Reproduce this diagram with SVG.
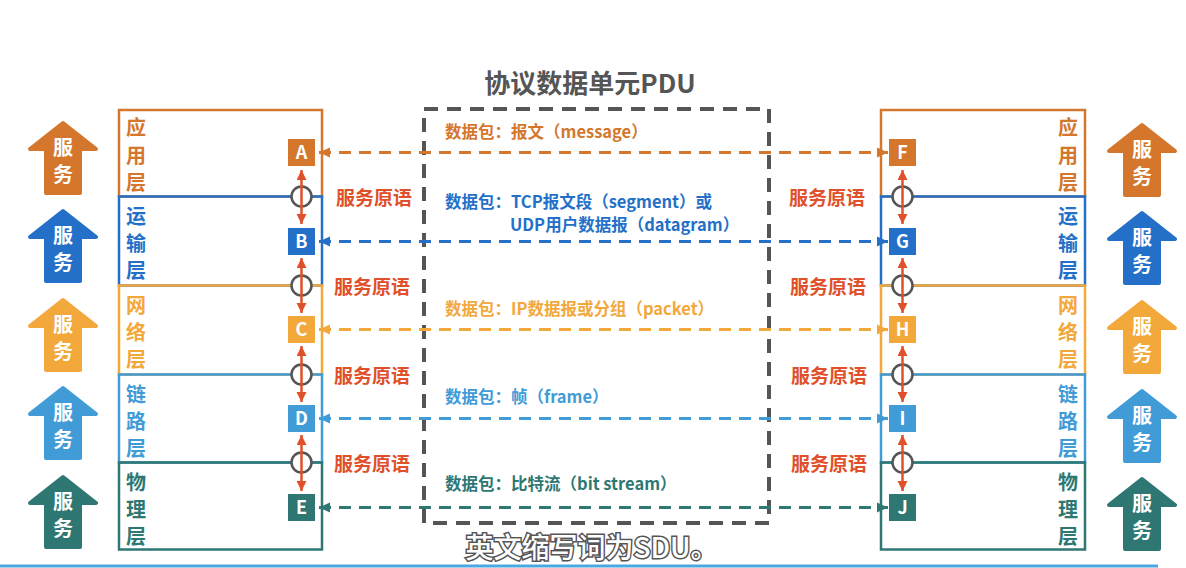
<svg xmlns="http://www.w3.org/2000/svg" width="1186" height="568" viewBox="0 0 1186 568">
<style>
text{font-family:"Noto Sans CJK SC","Noto Sans",sans-serif;font-weight:bold}
.lay{font-size:20px}
.svc{font-size:20px;fill:#fff}
.sq{font-size:18px;fill:#fff;text-anchor:middle}
.pdu{font-size:16.5px}
.prim{font-size:19px;fill:#E0502A;text-anchor:middle}
.box{fill:none;stroke-width:2.5}
.con{fill:none;stroke-width:3;stroke-dasharray:12 8}
.ring{fill:#fff;stroke:#555;stroke-width:2.5}
.red{stroke:#E0502A;stroke-width:2.5;fill:none;marker-start:url(#mR);marker-end:url(#mR)}
</style>
<defs>
<path id="up" d="M0,2 L33,28 L17,28 L17,72 L-17,72 L-17,28 L-33,28 Z" stroke-width="4" stroke-linejoin="round"/>
<marker id="mO" markerUnits="userSpaceOnUse" markerWidth="12" markerHeight="12" refX="11" refY="6" orient="auto-start-reverse"><path d="M0,1 L11,6 L0,11 Z" fill="#D4772C"/></marker>
<marker id="mB" markerUnits="userSpaceOnUse" markerWidth="12" markerHeight="12" refX="11" refY="6" orient="auto-start-reverse"><path d="M0,1 L11,6 L0,11 Z" fill="#2470C8"/></marker>
<marker id="mY" markerUnits="userSpaceOnUse" markerWidth="12" markerHeight="12" refX="11" refY="6" orient="auto-start-reverse"><path d="M0,1 L11,6 L0,11 Z" fill="#F3A83B"/></marker>
<marker id="mL" markerUnits="userSpaceOnUse" markerWidth="12" markerHeight="12" refX="11" refY="6" orient="auto-start-reverse"><path d="M0,1 L11,6 L0,11 Z" fill="#419BD7"/></marker>
<marker id="mT" markerUnits="userSpaceOnUse" markerWidth="12" markerHeight="12" refX="11" refY="6" orient="auto-start-reverse"><path d="M0,1 L11,6 L0,11 Z" fill="#2E7773"/></marker>
<marker id="mR" markerUnits="userSpaceOnUse" markerWidth="12" markerHeight="12" refX="10" refY="5" orient="auto-start-reverse"><path d="M0,0 L10,5 L0,10 Z" fill="#E0502A"/></marker>
</defs>
<rect width="1186" height="568" fill="#fff"/>

<g id="title"><text x="590" y="93" font-size="26" fill="#555" text-anchor="middle">协议数据单元PDU</text></g>

<g id="pdu-box"><rect x="424" y="109" width="345" height="414" fill="none" stroke="#555" stroke-width="4" stroke-dasharray="14 9"/></g>

<g id="service-arrows-left">
<use href="#up" x="63" y="121" fill="#D4772C" stroke="#D4772C"/>
<text class="svc" x="63" y="155" text-anchor="middle">服</text><text class="svc" x="63" y="182" text-anchor="middle">务</text>
<use href="#up" x="63" y="209" fill="#2470C8" stroke="#2470C8"/>
<text class="svc" x="63" y="243" text-anchor="middle">服</text><text class="svc" x="63" y="270" text-anchor="middle">务</text>
<use href="#up" x="63" y="298" fill="#F3A83B" stroke="#F3A83B"/>
<text class="svc" x="63" y="332" text-anchor="middle">服</text><text class="svc" x="63" y="359" text-anchor="middle">务</text>
<use href="#up" x="63" y="386" fill="#419BD7" stroke="#419BD7"/>
<text class="svc" x="63" y="420" text-anchor="middle">服</text><text class="svc" x="63" y="447" text-anchor="middle">务</text>
<use href="#up" x="63" y="475" fill="#2E7773" stroke="#2E7773"/>
<text class="svc" x="63" y="509" text-anchor="middle">服</text><text class="svc" x="63" y="536" text-anchor="middle">务</text>
</g>
<g id="service-arrows-right">
<use href="#up" x="1142" y="123" fill="#D4772C" stroke="#D4772C"/>
<text class="svc" x="1142" y="157" text-anchor="middle">服</text><text class="svc" x="1142" y="184" text-anchor="middle">务</text>
<use href="#up" x="1142" y="211" fill="#2470C8" stroke="#2470C8"/>
<text class="svc" x="1142" y="245" text-anchor="middle">服</text><text class="svc" x="1142" y="272" text-anchor="middle">务</text>
<use href="#up" x="1142" y="300" fill="#F3A83B" stroke="#F3A83B"/>
<text class="svc" x="1142" y="334" text-anchor="middle">服</text><text class="svc" x="1142" y="361" text-anchor="middle">务</text>
<use href="#up" x="1142" y="389" fill="#419BD7" stroke="#419BD7"/>
<text class="svc" x="1142" y="423" text-anchor="middle">服</text><text class="svc" x="1142" y="450" text-anchor="middle">务</text>
<use href="#up" x="1142" y="477" fill="#2E7773" stroke="#2E7773"/>
<text class="svc" x="1142" y="511" text-anchor="middle">服</text><text class="svc" x="1142" y="538" text-anchor="middle">务</text>
</g>

<g id="left-application"><rect class="box" x="119" y="110" width="203" height="86.5" stroke="#D4772C"/>
<text class="lay" fill="#D4772C" x="126" y="135">应</text><text class="lay" fill="#D4772C" x="126" y="163">用</text><text class="lay" fill="#D4772C" x="126" y="190">层</text>
<rect x="288" y="139" width="27" height="27" fill="#D4772C"/><text class="sq" x="301.5" y="159">A</text></g>
<g id="left-transport"><rect class="box" x="119" y="196.5" width="203" height="89" stroke="#2470C8"/>
<text class="lay" fill="#2470C8" x="126" y="224">运</text><text class="lay" fill="#2470C8" x="126" y="251">输</text><text class="lay" fill="#2470C8" x="126" y="278">层</text>
<rect x="288" y="228" width="27" height="27" fill="#2470C8"/><text class="sq" x="301.5" y="248">B</text></g>
<g id="left-network"><rect class="box" x="119" y="285.5" width="203" height="89" stroke="#F3A83B"/>
<text class="lay" fill="#F3A83B" x="126" y="313">网</text><text class="lay" fill="#F3A83B" x="126" y="340">络</text><text class="lay" fill="#F3A83B" x="126" y="367">层</text>
<rect x="288" y="316" width="27" height="27" fill="#F3A83B"/><text class="sq" x="301.5" y="336">C</text></g>
<g id="left-link"><rect class="box" x="119" y="374.5" width="203" height="88" stroke="#419BD7"/>
<text class="lay" fill="#419BD7" x="126" y="402">链</text><text class="lay" fill="#419BD7" x="126" y="429">路</text><text class="lay" fill="#419BD7" x="126" y="456">层</text>
<rect x="288" y="405" width="27" height="27" fill="#419BD7"/><text class="sq" x="301.5" y="425">D</text></g>
<g id="left-physical"><rect class="box" x="119" y="462.5" width="203" height="87" stroke="#2E7773"/>
<text class="lay" fill="#2E7773" x="126" y="490">物</text><text class="lay" fill="#2E7773" x="126" y="517">理</text><text class="lay" fill="#2E7773" x="126" y="544">层</text>
<rect x="288" y="494" width="27" height="27" fill="#2E7773"/><text class="sq" x="301.5" y="514">E</text></g>

<g id="right-application"><rect class="box" x="881" y="110" width="204" height="86.5" stroke="#D4772C"/>
<text class="lay" fill="#D4772C" x="1078" y="135" text-anchor="end">应</text><text class="lay" fill="#D4772C" x="1078" y="163" text-anchor="end">用</text><text class="lay" fill="#D4772C" x="1078" y="190" text-anchor="end">层</text>
<rect x="889" y="139" width="27" height="27" fill="#D4772C"/><text class="sq" x="902.5" y="159">F</text></g>
<g id="right-transport"><rect class="box" x="881" y="196.5" width="204" height="89" stroke="#2470C8"/>
<text class="lay" fill="#2470C8" x="1078" y="224" text-anchor="end">运</text><text class="lay" fill="#2470C8" x="1078" y="251" text-anchor="end">输</text><text class="lay" fill="#2470C8" x="1078" y="278" text-anchor="end">层</text>
<rect x="889" y="228" width="27" height="27" fill="#2470C8"/><text class="sq" x="902.5" y="248">G</text></g>
<g id="right-network"><rect class="box" x="881" y="285.5" width="204" height="89" stroke="#F3A83B"/>
<text class="lay" fill="#F3A83B" x="1078" y="313" text-anchor="end">网</text><text class="lay" fill="#F3A83B" x="1078" y="340" text-anchor="end">络</text><text class="lay" fill="#F3A83B" x="1078" y="367" text-anchor="end">层</text>
<rect x="889" y="316" width="27" height="27" fill="#F3A83B"/><text class="sq" x="902.5" y="336">H</text></g>
<g id="right-link"><rect class="box" x="881" y="374.5" width="204" height="88" stroke="#419BD7"/>
<text class="lay" fill="#419BD7" x="1078" y="402" text-anchor="end">链</text><text class="lay" fill="#419BD7" x="1078" y="429" text-anchor="end">路</text><text class="lay" fill="#419BD7" x="1078" y="456" text-anchor="end">层</text>
<rect x="889" y="405" width="27" height="27" fill="#419BD7"/><text class="sq" x="902.5" y="425">I</text></g>
<g id="right-physical"><rect class="box" x="881" y="462.5" width="204" height="87" stroke="#2E7773"/>
<text class="lay" fill="#2E7773" x="1078" y="490" text-anchor="end">物</text><text class="lay" fill="#2E7773" x="1078" y="517" text-anchor="end">理</text><text class="lay" fill="#2E7773" x="1078" y="544" text-anchor="end">层</text>
<rect x="889" y="494" width="27" height="27" fill="#2E7773"/><text class="sq" x="902.5" y="514">J</text></g>

<g id="service-primitives">
<circle class="ring" cx="301.5" cy="196.5" r="10"/><circle class="ring" cx="301.5" cy="285.5" r="10"/><circle class="ring" cx="301.5" cy="374.5" r="10"/><circle class="ring" cx="301.5" cy="462.5" r="10"/>
<circle class="ring" cx="902.5" cy="196.5" r="10"/><circle class="ring" cx="902.5" cy="285.5" r="10"/><circle class="ring" cx="902.5" cy="374.5" r="10"/><circle class="ring" cx="902.5" cy="462.5" r="10"/>
<line class="red" x1="301.5" y1="170" x2="301.5" y2="224"/><line class="red" x1="301.5" y1="258" x2="301.5" y2="313"/><line class="red" x1="301.5" y1="346" x2="301.5" y2="402"/><line class="red" x1="301.5" y1="435" x2="301.5" y2="491"/>
<line class="red" x1="902.5" y1="170" x2="902.5" y2="224"/><line class="red" x1="902.5" y1="258" x2="902.5" y2="313"/><line class="red" x1="902.5" y1="346" x2="902.5" y2="402"/><line class="red" x1="902.5" y1="435" x2="902.5" y2="491"/>
<text class="prim" x="374" y="205">服务原语</text><text class="prim" x="372" y="294">服务原语</text><text class="prim" x="372" y="383">服务原语</text><text class="prim" x="372" y="471">服务原语</text>
<text class="prim" x="827" y="205">服务原语</text><text class="prim" x="828" y="294">服务原语</text><text class="prim" x="829" y="383">服务原语</text><text class="prim" x="829" y="471">服务原语</text>
</g>

<g id="connectors">
<line class="con" x1="319" y1="152.5" x2="888" y2="152.5" stroke="#D4772C" marker-start="url(#mO)" marker-end="url(#mO)"/>
<line class="con" x1="319" y1="241.5" x2="888" y2="241.5" stroke="#2470C8" marker-start="url(#mB)" marker-end="url(#mB)"/>
<line class="con" x1="319" y1="329.5" x2="888" y2="329.5" stroke="#F3A83B" marker-start="url(#mY)" marker-end="url(#mY)"/>
<line class="con" x1="319" y1="418.5" x2="888" y2="418.5" stroke="#419BD7" marker-start="url(#mL)" marker-end="url(#mL)"/>
<line class="con" x1="319" y1="507.5" x2="888" y2="507.5" stroke="#2E7773" marker-start="url(#mT)" marker-end="url(#mT)"/>
</g>

<g id="pdu-labels">
<text class="pdu" x="445" y="138" fill="#D4772C">数据包：报文（message）</text>
<text class="pdu" x="445" y="208" fill="#2470C8">数据包：TCP报文段（segment）或</text>
<text class="pdu" x="510" y="231" fill="#2470C8">UDP用户数据报（datagram）</text>
<text class="pdu" x="445" y="315" fill="#F3A83B">数据包：IP数据报或分组（packet）</text>
<text class="pdu" x="445" y="403" fill="#419BD7">数据包：帧（frame）</text>
<text class="pdu" x="445" y="490" fill="#2E7773">数据包：比特流（bit stream）</text>
</g>

<g id="subtitle">
<line x1="0" y1="566" x2="1158" y2="566" stroke="#4AA8E0" stroke-width="3"/>
<text x="592" y="558" font-size="28" fill="#fff" stroke="#555" stroke-width="3" paint-order="stroke" text-anchor="middle" style="font-weight:500">英文缩写词为SDU。</text>
</g>
</svg>
